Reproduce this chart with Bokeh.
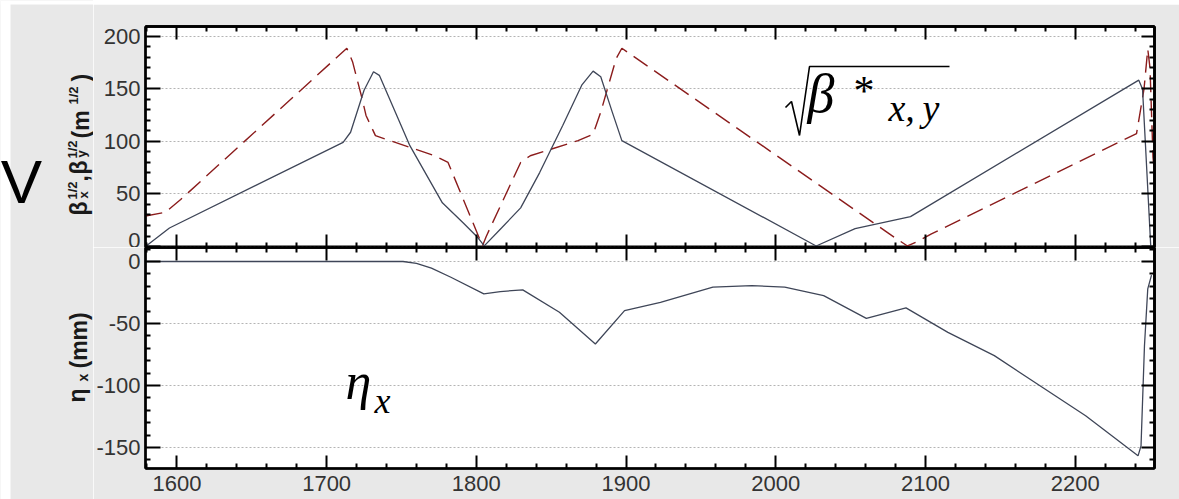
import numpy as np
from bokeh.plotting import figure
from bokeh.layouts import column, row
from bokeh.models import (Range1d, FixedTicker, LinearAxis, Label, BoxAnnotation,
                          PolyAnnotation, Grid, PrintfTickFormatter)
from bokeh.embed import file_html
from bokeh.resources import INLINE

# ---------------- data ----------------
# sqrt(beta_x) (solid)
bx_s = [1579, 1595, 1711, 1716, 1725, 1731.3, 1735.2, 1755.6, 1777.3, 1791.3, 1800.3,
        1805.3, 1816.8, 1829.6, 1842.3, 1857.7, 1870.4, 1878, 1883.1, 1890.8, 1897.2,
        2027, 2053, 2090, 2242.5, 2245, 2247, 2250.5]
bx_v = [0, 17.6, 99.2, 108.8, 148.8, 166.4, 163, 96, 41.6, 22.4, 9.6,
        0.6, 17.6, 36.8, 70.4, 115.2, 153.6, 167, 161.6, 128, 100.8,
        0.5, 17, 28.5, 158.4, 150, 96, 0]
# sqrt(beta_y) (dashed)
by_s = [1579, 1592.3, 1602.5, 1713.5, 1717.3, 1723.7, 1726.3, 1732.6, 1740.3, 1772.2,
        1781.1, 1801.5, 1804.1, 1806.6, 1829.6, 1836, 1867.9, 1878, 1883.1, 1893.4,
        1897.2, 2080, 2088, 2095, 2104, 2241, 2246, 2248.5, 2250, 2252, 2253]
by_v = [29, 32.6, 44.8, 188.8, 176, 140.8, 124.8, 105.6, 101.8, 86.4,
        80, 9.6, 0.6, 9.6, 80, 86.4, 100.8, 107, 128, 179,
        188.8, 8, 0.5, 5, 12, 107.5, 150, 188, 170, 85, 70]
# eta_x (mm)
eta_s = [1579, 1751, 1760, 1770, 1783, 1805, 1816, 1831, 1855.5, 1879.5, 1899, 1923,
         1958, 1984, 2006, 2032, 2060.5, 2087, 2115, 2146, 2176.5, 2207, 2242,
         2244, 2246.3, 2248.5, 2251]
eta_v = [0, 0, -1.5, -5.4, -12.7, -26.1, -24.2, -22.9, -40.9, -66.5, -39.6, -32.9,
         -20.7, -19.4, -20.7, -27.5, -45.8, -37.4, -57.1, -75.9, -100.2, -124.4, -156.7,
         -148.7, -67.9, -22, -11]

# tick positions
x_major_ticks = list(range(1600, 2201, 100))
x_minor_ticks = [v for v in range(1580, 2253, 20) if v % 100]
top_major_ticks = [0, 50, 100, 150, 200]
top_minor_ticks = [v for v in range(0, 210, 10) if v % 50]
bot_major_ticks = [0, -50, -100, -150]
bot_minor_ticks = [v for v in range(-160, 12, 10) if v % 50]

GRAY = "#e8e8e8"
TICKFONT = "Liberation Sans"
SOLID = "#3f4658"
DASHED = "#8b1c1c"
SERIF = "Liberation Serif"
AX = "Liberation Sans"

STRIP_W = 93          # width of the left strip holding the axis titles
MAIN_W = 1179 - STRIP_W


def tick_only_axis(positions, length):
    ax = LinearAxis(ticker=FixedTicker(ticks=[], minor_ticks=positions))
    ax.major_tick_in = 0
    ax.major_tick_out = 0
    ax.minor_tick_in = length
    ax.minor_tick_out = 0
    ax.minor_tick_line_width = 2
    ax.minor_tick_line_color = "black"
    ax.axis_line_width = 2.5
    ax.axis_line_color = "black"
    return ax


def label_axis(major, minor, major_len):
    ax = LinearAxis(ticker=FixedTicker(ticks=major, minor_ticks=minor),
                    formatter=PrintfTickFormatter(format="%d"))
    ax.major_tick_in = major_len
    ax.major_tick_out = 0
    ax.minor_tick_in = 5
    ax.minor_tick_out = 0
    ax.major_tick_line_width = 2
    ax.minor_tick_line_width = 2
    ax.axis_line_width = 2.5
    ax.axis_line_color = "black"
    ax.major_tick_line_color = "black"
    ax.minor_tick_line_color = "black"
    ax.major_label_text_font = TICKFONT
    ax.major_label_text_font_size = "22px"
    ax.major_label_text_color = "#333333"
    return ax


def add_side(p, place, major, minor, major_len):
    p.add_layout(tick_only_axis(major, major_len), place)
    p.add_layout(tick_only_axis(minor, 5), place)


def base_fig(height, yr, top, bottom):
    p = figure(width=MAIN_W, height=height, x_range=Range1d(1579, 2253), y_range=yr,
               output_backend="svg", toolbar_location=None,
               x_axis_location=None, y_axis_location=None,
               min_border_left=143 - STRIP_W, min_border_right=25,
               min_border_top=top, min_border_bottom=bottom)
    p.center = [c for c in p.center if not isinstance(c, Grid)]
    p.background_fill_color = "white"
    p.border_fill_color = GRAY
    p.outline_line_color = "black"
    p.outline_line_width = 2
    return p


def serif_label(p, fl, fb, px, py_bottom, text, size, italic=True):
    p.add_layout(Label(x=px - fl, y=fb - py_bottom, x_units="screen", y_units="screen",
                       text=text, text_font=SERIF,
                       text_font_style="italic" if italic else "normal",
                       text_font_size=size, text_color="black",
                       text_baseline="bottom"))


# ---------------- top panel ----------------
p1 = base_fig(243, Range1d(-0.95, 209.5), 22, 0)
p1.add_layout(Grid(dimension=1, ticker=FixedTicker(ticks=top_major_ticks),
                   grid_line_color="#b4b4b4", grid_line_dash="2 2",
                   grid_line_width=1))
la = label_axis(top_major_ticks, top_minor_ticks, 15)
la.major_label_standoff = 5
p1.add_layout(la, "left")
add_side(p1, "right", top_major_ticks, top_minor_ticks, 13)
add_side(p1, "above", x_major_ticks, x_minor_ticks, 13)
add_side(p1, "below", x_major_ticks, x_minor_ticks, 13)

p1.line(by_s, by_v, line_color=DASHED, line_width=1.4, line_dash="17 8")
p1.line(bx_s, bx_v, line_color=SOLID, line_width=1.3)

F1L, F1B = 143, 247  # frame left / bottom in page px (top panel)

rad_px = [783, 789, 797, 807, 947]
rad_py = [107, 101, 135, 66, 66]
xs = [v - F1L for v in rad_px] + [v - F1L for v in rad_px[-2:0:-1]]
ys = [F1B - v for v in rad_py] + [F1B - v for v in rad_py[-2:0:-1]]
p1.add_layout(PolyAnnotation(xs=xs, ys=ys, xs_units="screen", ys_units="screen",
                             fill_alpha=0, line_color="black", line_alpha=1,
                             line_width=1.6))
serif_label(p1, F1L, F1B, 805, 123, "β", "54px")
serif_label(p1, F1L, F1B, 851, 113, "*", "42px", italic=False)
serif_label(p1, F1L, F1B, 886, 128, "x,\u2009y", "38px")

# ---------------- bottom panel ----------------
p2 = base_fig(252, Range1d(-166.9, 11.3), 0, 31)
p2.add_layout(Grid(dimension=1, ticker=FixedTicker(ticks=bot_major_ticks),
                   grid_line_color="#b4b4b4", grid_line_dash="2 2",
                   grid_line_width=1))
la2 = label_axis(bot_major_ticks, bot_minor_ticks, 15)
la2.major_label_standoff = 5
p2.add_layout(la2, "left")
add_side(p2, "right", bot_major_ticks, bot_minor_ticks, 13)
add_side(p2, "above", x_major_ticks, x_minor_ticks, 13)
bx_axis = label_axis(x_major_ticks, x_minor_ticks, 13)
bx_axis.major_label_standoff = 7
p2.add_layout(bx_axis, "below")

p2.line(eta_s, eta_v, line_color=SOLID, line_width=1.3)

F2L, F2B = 143, 468
serif_label(p2, F2L, F2B, 343, 409, "η", "52px")
serif_label(p2, F2L, F2B, 372, 420, "x", "36px")

# ---------------- left strip with the axis titles (page-pixel ranges) ----------------
pl = figure(width=STRIP_W, height=499, x_range=Range1d(0, STRIP_W),
            y_range=Range1d(499, 0),
            output_backend="svg", toolbar_location=None,
            x_axis_location=None, y_axis_location=None,
            min_border=0, min_border_left=0, min_border_right=0,
            min_border_top=0, min_border_bottom=0)
pl.center = [c for c in pl.center if not isinstance(c, Grid)]
pl.background_fill_color = GRAY
pl.border_fill_color = GRAY
pl.outline_line_color = None

# white page margins (left 10 px, top 4 px)
pl.add_layout(BoxAnnotation(left=0, right=10, top=0, bottom=499, fill_color="white",
                            fill_alpha=1, line_color=None))
pl.add_layout(BoxAnnotation(left=0, right=STRIP_W, top=0, bottom=4, fill_color="white",
                            fill_alpha=1, line_color=None))

pieces = [
    ("β", 78, 215, "23px"),
    ("1/2", 72, 199, "13px"),
    ("x", 83, 198, "13px"),
    (",", 79, 181, "23px"),
    ("β", 78, 174, "23px"),
    ("1/2", 72, 158, "13px"),
    ("y", 81, 157, "13px"),
    ("(m", 80, 138, "23px"),
    ("1/2", 73, 104, "13px"),
    (")", 80, 81, "23px"),
    ("η", 76, 402, "23px"),
    ("x", 82, 381, "14px"),
    ("(mm)", 78, 368, "23px"),
]
for t, px, py, fs in pieces:
    pl.add_layout(Label(x=px, y=py, text=t, angle=np.pi / 2, text_font=AX,
                        text_font_style="bold", text_font_size=fs,
                        text_color="#1a1a1a", text_align="left",
                        text_baseline="alphabetic"))

pl.add_layout(Label(x=21, y=215, text="V", text_font=AX,
                    text_font_size="62px", text_color="black", text_align="center",
                    text_baseline="bottom"))

pad = column(p1, p2, spacing=0, margin=(4, 0, 0, 0))
layout = row(pl, pad, spacing=0)

open("out.html", "w").write(file_html(layout, INLINE))
